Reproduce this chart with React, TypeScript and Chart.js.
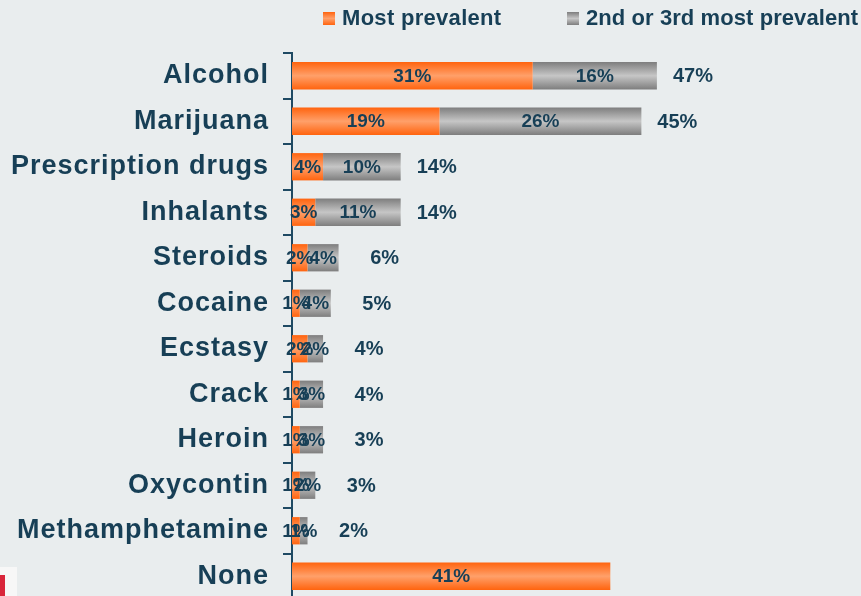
import React, { useEffect, useRef } from "react";
import { Chart, registerables } from "chart.js";

Chart.register(...registerables);

const categories = [
  "Alcohol",
  "Marijuana",
  "Prescription drugs",
  "Inhalants",
  "Steroids",
  "Cocaine",
  "Ecstasy",
  "Crack",
  "Heroin",
  "Oxycontin",
  "Methamphetamine",
  "None",
];
const mostPrevalent = [31, 19, 4, 3, 2, 1, 2, 1, 1, 1, 1, 41];
const secondThird = [16, 26, 10, 11, 4, 4, 2, 3, 3, 2, 1, 0];
const totals: (number | null)[] = [47, 45, 14, 14, 6, 5, 4, 4, 3, 3, 2, null];
const seriesNames = ["Most prevalent", "2nd or 3rd most prevalent"];

const TEXT = "#173F56";
const AXIS = "#1F4A63";
const BG = "#E9EDEE";
const FONT = "'Liberation Sans', Arial, sans-serif";

const makeGrad = (stops: string[]) => (ctx: any) => {
  const chart = ctx.chart;
  const y = chart.scales && chart.scales.y;
  if (ctx.type !== "data" || !y || !chart.chartArea) return stops[1];
  const cy = y.getPixelForValue(ctx.dataIndex);
  const half = ((chart.chartArea.bottom - chart.chartArea.top) / categories.length) * 0.6 / 2;
  const g = chart.ctx.createLinearGradient(0, cy - half, 0, cy + half);
  g.addColorStop(0, stops[0]);
  g.addColorStop(0.5, stops[1]);
  g.addColorStop(1, stops[2]);
  return g;
};

const spacingPlugin = {
  id: "spacing",
  beforeDraw(chart: any) {
    (chart.ctx as any).letterSpacing = "1px";
  },
  afterDraw(chart: any) {
    (chart.ctx as any).letterSpacing = "0px";
  },
};

const labelPlugin = {
  id: "barLabels",
  afterDatasetsDraw(chart: any) {
    const ctx = chart.ctx;
    ctx.save();
    (ctx as any).letterSpacing = "0px";
    ctx.fillStyle = TEXT;
    ctx.textBaseline = "middle";
    ctx.textAlign = "center";
    ctx.font = `bold 19px ${FONT}`;
    chart.data.datasets.forEach((ds: any, di: number) => {
      const meta = chart.getDatasetMeta(di);
      meta.data.forEach((el: any, i: number) => {
        const v = ds.data[i];
        if (!v) return;
        const props = el.getProps(["x", "y", "base"], true);
        ctx.fillText(v + "%", (props.x + props.base) / 2, props.y + 1);
      });
    });
    const last = chart.getDatasetMeta(chart.data.datasets.length - 1);
    ctx.font = `bold 20px ${FONT}`;
    last.data.forEach((el: any, i: number) => {
      const t = totals[i];
      if (t == null) return;
      const props = el.getProps(["x", "y"], true);
      const off = t >= 10 ? 36 : 46;
      ctx.fillText(t + "%", props.x + off, props.y + 1);
    });
    ctx.restore();
  },
};

export default function App() {
  const ref = useRef<HTMLCanvasElement>(null);
  useEffect(() => {
    document.body.style.margin = "0";
    document.body.style.background = BG;
    const chart = new Chart(ref.current!, {
      type: "bar",
      data: {
        labels: categories,
        datasets: [
          {
            label: seriesNames[0],
            data: mostPrevalent,
            backgroundColor: makeGrad(["#FF640F", "#FFA06A", "#FF640F"]),
            borderWidth: 0,
            barPercentage: 0.6,
            categoryPercentage: 1,
          },
          {
            label: seriesNames[1],
            data: secondThird,
            backgroundColor: makeGrad(["#7E7E7E", "#C6C6C6", "#7E7E7E"]),
            borderWidth: 0,
            barPercentage: 0.6,
            categoryPercentage: 1,
          },
        ],
      },
      options: {
        indexAxis: "y",
        responsive: false,
        animation: false,
        layout: { autoPadding: false, padding: { top: 53, right: 10, bottom: 1, left: 0 } },
        plugins: {
          legend: { display: false },
          tooltip: { enabled: false },
        },
        scales: {
          x: { stacked: true, display: false, min: 0, max: 72 },
          y: {
            stacked: true,
            afterFit: (s: any) => {
              s.width = 292;
              s.paddingTop = 0;
              s.paddingBottom = 0;
            },
            grid: {
              display: true,
              drawOnChartArea: false,
              drawTicks: true,
              tickLength: 9,
              color: AXIS,
              lineWidth: 2,
              offset: true,
            },
            border: { display: true, color: AXIS, width: 2 },
            ticks: {
              padding: 14,
              color: TEXT,
              font: { family: FONT, size: 27, weight: "bold" },
            },
          },
        },
      },
      plugins: [spacingPlugin, labelPlugin],
    });
    return () => chart.destroy();
  }, []);

  const legendText: React.CSSProperties = {
    position: "absolute",
    top: 7,
    font: `bold 22px ${FONT}`,
    lineHeight: "22px",
    color: TEXT,
    whiteSpace: "nowrap",
  };
  const sq: React.CSSProperties = { position: "absolute", top: 12, width: 12, height: 13 };

  return (
    <div style={{ position: "relative", width: 861, height: 596, overflow: "hidden", background: BG }}>
      <canvas ref={ref} width={861} height={600} style={{ position: "absolute", left: 0, top: 0 }} />
      <div style={{ ...sq, left: 323, background: "linear-gradient(#FF640F, #FFA06A, #FF640F)" }} />
      <div style={{ ...legendText, left: 342, letterSpacing: "0.3px" }}>{seriesNames[0]}</div>
      <div style={{ ...sq, left: 567, background: "linear-gradient(#7E7E7E, #C6C6C6, #7E7E7E)" }} />
      <div style={{ ...legendText, left: 586, letterSpacing: "0.08px" }}>{seriesNames[1]}</div>
      <div style={{ position: "absolute", left: 0, top: 567, width: 17, height: 29, background: "#F7F7F7" }}>
        <div style={{ position: "absolute", left: 0, top: 8, width: 5, height: 21, background: "#D9253A" }} />
      </div>
    </div>
  );
}
